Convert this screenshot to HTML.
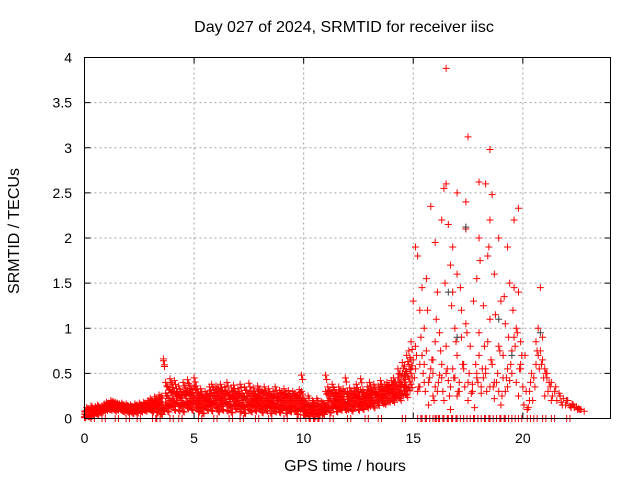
<!DOCTYPE html>
<html><head><meta charset="utf-8"><style>
body{margin:0;background:#fff}
svg{display:block;font-family:"Liberation Sans",sans-serif}
</style></head><body>
<svg id="c" width="640" height="480" viewBox="0 0 640 480">
<text x="344" y="32" font-size="16" text-anchor="middle">Day 027 of 2024, SRMTID for receiver iisc</text>
<text x="345" y="471" font-size="16" text-anchor="middle">GPS time / hours</text>
<text x="19" y="231" font-size="16" text-anchor="middle" transform="rotate(-90 19 231)">SRMTID / TECUs</text>
<g id="grid"></g>
<g id="axes"></g>
<g id="marks"></g>
<rect x="84.5" y="57.5" width="526" height="361" fill="none" stroke="#000"/>
</svg>
<script>
const xTicks=[0,5,10,15,20];
const yTicks=[0,0.5,1,1.5,2,2.5,3,3.5,4];
const yTickLabels=["0","0.5","1","1.5","2","2.5","3","3.5","4"];
const bandStart=0, bandStep=0.1;
const bandUpper=[0.08,0.12,0.10,0.14,0.11,0.13,0.15,0.12,0.14,0.16,0.18,0.17,0.20,0.19,0.18,0.17,0.16,0.17,0.15,0.16,0.14,0.15,0.13,0.16,0.15,0.17,0.14,0.18,0.17,0.20,0.22,0.19,0.24,0.21,0.26,0.25,0.66,0.40,0.35,0.44,0.38,0.42,0.33,0.36,0.30,0.40,0.34,0.43,0.37,0.32,0.45,0.36,0.28,0.33,0.25,0.30,0.27,0.35,0.38,0.32,0.36,0.33,0.38,0.31,0.35,0.40,0.29,0.34,0.37,0.30,0.33,0.38,0.28,0.35,0.31,0.39,0.30,0.34,0.27,0.36,0.32,0.30,0.35,0.28,0.33,0.26,0.30,0.35,0.27,0.31,0.29,0.33,0.27,0.31,0.25,0.30,0.28,0.26,0.32,0.48,0.22,0.18,0.25,0.15,0.20,0.16,0.22,0.14,0.19,0.17,0.48,0.35,0.30,0.38,0.32,0.28,0.35,0.30,0.33,0.45,0.30,0.34,0.28,0.33,0.38,0.30,0.44,0.32,0.28,0.35,0.40,0.33,0.38,0.30,0.36,0.42,0.35,0.38,0.40,0.37,0.42,0.45,0.40,0.55,0.50,0.62,0.58,0.70,0.75,0.85];
const bandMiddle=[0.05,0.09,0.08,0.10,0.09,0.11,0.12,0.11,0.13,0.14,0.15,0.15,0.17,0.16,0.15,0.15,0.14,0.14,0.13,0.13,0.12,0.12,0.11,0.13,0.13,0.14,0.13,0.15,0.15,0.16,0.18,0.16,0.20,0.17,0.21,0.18,0.64,0.28,0.25,0.32,0.30,0.30,0.28,0.26,0.25,0.29,0.30,0.31,0.29,0.25,0.35,0.28,0.22,0.26,0.18,0.25,0.21,0.28,0.28,0.28,0.28,0.24,0.30,0.25,0.30,0.28,0.25,0.24,0.30,0.25,0.28,0.27,0.24,0.24,0.28,0.28,0.22,0.28,0.22,0.30,0.25,0.22,0.28,0.22,0.28,0.19,0.24,0.25,0.24,0.22,0.22,0.26,0.20,0.25,0.20,0.25,0.22,0.18,0.25,0.30,0.15,0.14,0.15,0.13,0.14,0.10,0.16,0.10,0.15,0.12,0.30,0.28,0.22,0.28,0.27,0.21,0.27,0.23,0.27,0.30,0.24,0.28,0.22,0.26,0.30,0.24,0.32,0.25,0.26,0.28,0.30,0.30,0.29,0.29,0.30,0.36,0.30,0.31,0.35,0.32,0.36,0.36,0.36,0.45,0.40,0.50,0.48,0.52,0.60,0.65];
const bandLower=[0.02,0.04,0.05,0.03,0.06,0.07,0.08,0.09,0.10,0.11,0.12,0.13,0.14,0.13,0.12,0.13,0.12,0.11,0.12,0.10,0.09,0.10,0.08,0.09,0.11,0.10,0.12,0.11,0.13,0.12,0.14,0.12,0.15,0.13,0.16,0.10,0.12,0.18,0.15,0.20,0.22,0.18,0.24,0.15,0.20,0.17,0.25,0.19,0.22,0.18,0.25,0.20,0.15,0.18,0.12,0.20,0.16,0.22,0.18,0.24,0.20,0.15,0.22,0.18,0.25,0.17,0.21,0.14,0.24,0.19,0.22,0.16,0.20,0.13,0.24,0.18,0.15,0.21,0.17,0.23,0.18,0.14,0.20,0.16,0.22,0.12,0.18,0.15,0.20,0.13,0.16,0.20,0.12,0.18,0.14,0.20,0.15,0.10,0.18,0.20,0.08,0.10,0.06,0.12,0.09,0.05,0.10,0.07,0.11,0.08,0.15,0.20,0.12,0.18,0.22,0.14,0.19,0.16,0.21,0.17,0.18,0.22,0.15,0.20,0.25,0.17,0.21,0.18,0.24,0.20,0.22,0.26,0.20,0.28,0.24,0.30,0.26,0.25,0.30,0.28,0.30,0.28,0.32,0.35,0.30,0.38,0.40,0.35,0.45,0.50];
const bandLow2=[0.01,0.03,0.02,0.05,0.04,0.06,0.05,0.07,0.08,0.09,0.10,0.11,0.10,0.11,0.09,0.10,0.11,0.09,0.08,0.09,0.07,0.08,0.06,0.08,0.07,0.09,0.08,0.10,0.09,0.11,0.10,0.08,0.12,0.07,0.11,0.05,0.09,0.12,0.08,0.14,0.15,0.10,0.18,0.09,0.14,0.08,0.16,0.12,0.15,0.10,0.18,0.12,0.08,0.12,0.06,0.14,0.10,0.15,0.09,0.17,0.12,0.08,0.15,0.10,0.18,0.09,0.14,0.07,0.16,0.11,0.15,0.08,0.13,0.06,0.16,0.10,0.08,0.14,0.09,0.15,0.11,0.07,0.13,0.09,0.15,0.06,0.12,0.08,0.13,0.07,0.10,0.13,0.06,0.11,0.08,0.13,0.09,0.05,0.11,0.12,0.04,0.06,0.03,0.07,0.05,0.02,0.06,0.04,0.07,0.05,0.09,0.13,0.07,0.12,0.15,0.08,0.12,0.10,0.14,0.10,0.11,0.15,0.09,0.13,0.17,0.10,0.14,0.11,0.16,0.13,0.15,0.18,0.13,0.20,0.16,0.22,0.18,0.17,0.22,0.20,0.22,0.20,0.24,0.26,0.22,0.28,0.30,0.26,0.34,0.38];
const stormT=[16.5,17.5,18.5,16.5,16.4,18.0,18.3,17.0,18.6,15.8,19.8,17.4,16.3,16.6,17.4,18.5,18.9,19.6,15.1,15.2,16.0,16.8,18.0,18.4,19.3,15.4,15.6,16.7,17.0,17.9,18.7,19.4,19.6,20.8,15.0,15.3,16.1,16.8,17.2,18.2,18.5,19.0,19.8,15.5,16.2,16.9,17.4,18.0,19.2,19.7,20.7,20.9,15.1,15.6,16.0,16.5,17.0,17.6,18.4,18.9,19.5,20.1,20.8,15.3,15.8,16.3,16.8,17.3,17.9,18.6,19.3,19.9,20.6,21.0,15.5,16.0,16.6,17.1,17.7,18.2,18.8,19.4,20.0,20.5,21.2,21.5,15.2,15.9,16.4,17.0,17.5,18.1,18.7,19.2,19.8,20.3,21.0,21.7,22.0,22.3,22.6,22.8,15.7,16.7,17.8,19.0,20.2,21.3,21.8,22.2,22.5,20.4,20.3,21.1,20.6,14.9,15.0,15.4,15.9,16.2,17.2,18.0,18.3,19.1,19.6,19.9];
const stormV=[3.88,3.12,2.98,2.6,2.55,2.62,2.6,2.5,2.48,2.35,2.33,2.4,2.2,2.15,2.1,2.2,2.0,2.2,1.9,1.8,1.95,1.9,2.0,1.8,1.9,1.45,1.55,1.7,1.6,1.55,1.6,1.5,1.45,1.45,1.3,1.2,1.4,1.4,1.2,1.25,1.1,1.3,1.4,1.0,0.95,1.0,1.05,0.95,1.05,1.0,1.0,0.9,0.8,0.75,0.85,0.8,0.7,0.8,0.85,0.8,0.75,0.7,0.75,0.6,0.55,0.6,0.55,0.6,0.5,0.6,0.55,0.6,0.6,0.55,0.4,0.35,0.42,0.4,0.38,0.45,0.4,0.42,0.35,0.45,0.4,0.35,0.3,0.25,0.2,0.25,0.2,0.28,0.22,0.3,0.25,0.2,0.25,0.25,0.2,0.15,0.1,0.08,0.15,0.1,0.12,0.15,0.1,0.2,0.15,0.12,0.1,0.5,0.3,0.5,0.85,0.55,0.65,0.7,0.65,0.48,0.9,0.7,0.55,0.7,0.9,0.85];
const stormT2=[15.05,15.15,15.25,15.35,15.45,15.55,15.65,15.75,15.85,15.95,16.05,16.15,16.25,16.35,16.45,16.55,16.65,16.75,16.85,16.95,17.05,17.15,17.25,17.35,17.45,17.55,17.65,17.75,17.85,17.95,18.05,18.15,18.25,18.35,18.45,18.55,18.65,18.75,18.85,18.95,19.05,19.15,19.25,19.35,19.45,19.55,19.65,19.75,19.85,19.95,20.05,20.15,20.25,20.35,20.45,20.55,20.65,20.75,20.85,20.95,21.05,21.15,21.25,21.35,21.45,21.55,21.65,21.75,21.85,21.95,22.05,22.15,22.25,22.35,22.45,22.55,22.65,15.1,15.3,15.5,15.7,15.9,16.1,16.3,16.5,16.7,16.9,17.1,17.3,17.5,17.7,17.9,18.1,18.3,18.5,18.7,18.9,19.1,19.3,19.5,19.7,19.9,20.7,20.9,21.1,21.3];
const stormV2=[0.45,0.7,0.35,0.9,0.5,0.3,1.2,0.45,0.65,0.2,1.1,0.4,0.75,0.3,1.5,0.55,0.25,1.25,0.45,0.85,0.3,1.45,0.6,0.35,0.95,0.5,0.28,1.3,0.6,0.4,1.75,0.55,0.8,0.3,1.9,0.65,0.35,1.15,0.5,0.75,0.25,1.35,0.45,0.9,0.6,1.2,0.8,0.95,0.55,0.7,0.15,0.3,0.12,0.4,0.2,0.35,0.75,0.55,0.6,0.45,0.5,0.3,0.35,0.25,0.3,0.2,0.28,0.18,0.22,0.15,0.2,0.14,0.16,0.12,0.13,0.11,0.1,0.55,0.35,0.6,0.4,0.5,0.3,0.45,0.5,0.35,0.45,0.3,0.55,0.4,0.3,0.45,0.35,0.5,0.35,0.4,0.3,0.45,0.35,0.5,0.4,0.55,0.7,0.65,0.45,0.4];
const zeroT=[0.3,0.8,1.4,1.9,2.4,3.1,3.3,3.9,4.3,5.2,5.9,6.6,7.1,7.8,8.4,9.1,9.7,10.1,10.3,10.5,10.7,11.2,12.0,12.8,13.4,14.5,15.2,15.6,15.9,16.2,16.6,17.0,17.3,17.8,18.1,18.5,19.0,19.5,20.2,20.5,21.3,22.0,15.4,16.0,16.4,16.8,17.6,18.3,18.8,19.2,19.8,20.9];
const greyT=[17.4,18.9,17.0,20.8,16.6,19.5];
const greyV=[2.12,1.1,0.9,0.95,1.4,0.7];

const X0=84.5,X1=610.5,Y0=418.5,Y1=57.5,XMAX=24,YMAX=4;
const sx=t=>X0+(X1-X0)*t/XMAX;
const sy=v=>Y0-(Y0-Y1)*v/YMAX;
const NS="http://www.w3.org/2000/svg";
function mk(tag,attrs,parent){const e=document.createElementNS(NS,tag);for(const k in attrs)e.setAttribute(k,attrs[k]);parent.appendChild(e);return e;}
const grid=document.getElementById('grid'),axes=document.getElementById('axes'),marks=document.getElementById('marks');
xTicks.forEach((t,i)=>{
  const x=sx(t);
  if(t>0){const g=mk('line',{x1:x,x2:x,y1:Y1,y2:Y0,stroke:'#a0a0a0','stroke-dasharray':'2,3'},grid);
  
  }
  mk('line',{x1:x,x2:x,y1:Y0,y2:Y0-6,stroke:'#000'},axes);
  mk('line',{x1:x,x2:x,y1:Y1,y2:Y1+6,stroke:'#000'},axes);
  const l=mk('text',{x:x,y:443,'font-size':14,'text-anchor':'middle'},axes);l.textContent=t;
  
  
});
yTicks.forEach((v,i)=>{
  const y=sy(v);
  if(v>0&&v<YMAX){const g=mk('line',{x1:X0,x2:X1,y1:y,y2:y,stroke:'#a0a0a0','stroke-dasharray':'2,3'},grid);
  
  }
  mk('line',{x1:X0,x2:X0+6,y1:y,y2:y,stroke:'#000'},axes);
  mk('line',{x1:X1,x2:X1-6,y1:y,y2:y,stroke:'#000'},axes);
  const l=mk('text',{x:72,y:y+5,'font-size':14,'text-anchor':'end'},axes);l.textContent=yTickLabels[i];
  
  
});
let red='',grey='';
const plus=(t,v)=>{const x=sx(t),y=sy(v);return `M${x-3.5},${y}h7M${x},${y-3.5}v7`;};
[bandUpper,bandMiddle,bandLower,bandLow2].forEach(arr=>arr.forEach((v,i)=>{
  const t=bandStart+i*bandStep;red+=plus(t,v);red+=plus(t+bandStep/2,v*0.9);}));
stormT.forEach((t,i)=>{red+=plus(t,stormV[i]);});
stormT2.forEach((t,i)=>{red+=plus(t,stormV2[i]);});
zeroT.forEach(t=>{red+=plus(t,0);red+=plus(t+0.15,0);});
greyT.forEach((t,i)=>{grey+=plus(t,greyV[i]);});
const pr=mk('path',{d:red,stroke:'#ff0000','stroke-width':1,fill:'none'},marks);


const pg=mk('path',{d:grey,stroke:'#404040','stroke-width':1,fill:'none'},marks);


</script>
</body></html>
